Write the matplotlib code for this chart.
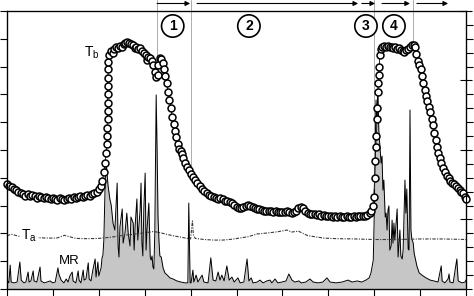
import numpy as np
import matplotlib
matplotlib.use('Agg')
import matplotlib.pyplot as plt

plt.rcParams['font.family'] = ['Liberation Sans', 'DejaVu Sans']

# time in axis divisions (10 across the frame), values in left-axis divisions
tb_t = [0.00, 0.05, 0.10, 0.15, 0.20, 0.25, 0.30, 0.35, 0.40, 0.45,
        0.50, 0.55, 0.60, 0.65, 0.70, 0.75, 0.80, 0.85, 0.90, 0.95,
        1.00, 1.05, 1.10, 1.15, 1.20, 1.25, 1.30, 1.35, 1.40, 1.45,
        1.50, 1.55, 1.60, 1.65, 1.70, 1.75, 1.80, 1.85, 1.90, 1.95,
        2.00, 2.04, 2.08, 2.11, 2.14, 2.16, 2.17, 2.18, 2.18, 2.19,
        2.19, 2.19, 2.20, 2.20, 2.20, 2.21, 2.21, 2.22,
        2.26, 2.30, 2.34, 2.38, 2.42, 2.46, 2.50, 2.54, 2.58, 2.62,
        2.66, 2.70, 2.74, 2.78, 2.82, 2.86, 2.90, 2.94, 2.98, 3.02,
        3.05, 3.08, 3.12, 3.16, 3.19, 3.22, 3.25, 3.28, 3.30, 3.33,
        3.36, 3.39, 3.42, 3.45, 3.48, 3.51, 3.54, 3.57, 3.60, 3.63,
        3.66, 3.69, 3.72, 3.75, 3.78, 3.81, 3.84, 3.88, 3.92, 3.96,
        4.00, 4.05, 4.10, 4.15, 4.20, 4.25, 4.30, 4.35, 4.40, 4.45,
        4.50, 4.55, 4.60, 4.65, 4.70, 4.75, 4.80, 4.85, 4.90, 4.95,
        5.00, 5.05, 5.10, 5.15, 5.20, 5.25, 5.30, 5.35, 5.40, 5.45,
        5.50, 5.55, 5.60, 5.65, 5.70, 5.75, 5.80, 5.85, 5.90, 5.95,
        6.00, 6.05, 6.10, 6.15, 6.20, 6.25, 6.30, 6.35, 6.40, 6.45,
        6.50, 6.55, 6.60, 6.65, 6.70, 6.75, 6.80, 6.85, 6.90, 6.95,
        7.00, 7.05, 7.10, 7.15, 7.20, 7.25, 7.30, 7.35, 7.40, 7.45,
        7.50, 7.55, 7.60, 7.65, 7.70, 7.75, 7.80, 7.85, 7.90, 7.94,
        7.97, 7.99, 8.01, 8.02, 8.03, 8.05, 8.06, 8.07, 8.08, 8.09,
        8.10, 8.11, 8.12, 8.14,
        8.18, 8.22, 8.26, 8.30, 8.34, 8.38, 8.42, 8.46, 8.50, 8.54,
        8.58, 8.62, 8.66, 8.70, 8.74, 8.78, 8.82, 8.86, 8.89, 8.92,
        8.95, 8.98, 9.01, 9.04, 9.07, 9.10, 9.13, 9.16, 9.19, 9.22,
        9.25, 9.28, 9.31, 9.34, 9.37, 9.40, 9.43, 9.46, 9.50, 9.54,
        9.58, 9.62, 9.66, 9.70, 9.74, 9.78, 9.82, 9.86, 9.90, 9.94,
        9.98, 10.00]
tb = [3.78, 3.72, 3.66, 3.60, 3.55, 3.50, 3.46, 3.42, 3.36, 3.40,
      3.33, 3.38, 3.34, 3.28, 3.35, 3.31, 3.26, 3.32, 3.27, 3.24,
      3.29, 3.25, 3.20, 3.26, 3.22, 3.19, 3.24, 3.28, 3.25, 3.30,
      3.27, 3.32, 3.36, 3.31, 3.35, 3.38, 3.34, 3.40, 3.44, 3.48,
      3.58, 3.70, 3.90, 4.20, 4.55, 4.90, 5.20, 5.50, 5.80, 6.10,
      6.40, 6.70, 7.00, 7.30, 7.60, 7.90, 8.15, 8.40,
      8.55, 8.50, 8.62, 8.70, 8.66, 8.75, 8.72, 8.80, 8.85, 8.90,
      8.84, 8.80, 8.76, 8.68, 8.72, 8.62, 8.66, 8.55, 8.50, 8.40,
      8.25, 8.35, 8.30, 8.20, 8.05, 7.80, 7.62, 7.70, 8.05, 8.30,
      8.28, 8.12, 7.90, 7.65, 7.40, 7.10, 6.80, 6.50, 6.20, 5.95,
      5.70, 5.45, 5.20, 5.05, 4.95, 4.85, 4.70, 4.55, 4.40, 4.28,
      4.15, 4.03, 3.92, 3.80, 3.70, 3.60, 3.52, 3.45, 3.38, 3.34,
      3.30, 3.27, 3.25, 3.28, 3.22, 3.18, 3.15, 3.12, 3.08, 3.02,
      2.96, 2.93, 2.90, 2.94, 3.00, 3.02, 2.98, 2.95, 2.92, 2.88,
      2.86, 2.84, 2.82, 2.80, 2.80, 2.79, 2.78, 2.80, 2.78, 2.77,
      2.76, 2.78, 2.80, 2.78, 2.75, 2.76, 2.80, 2.90, 2.95, 2.92,
      2.82, 2.75, 2.70, 2.68, 2.70, 2.66, 2.68, 2.64, 2.66, 2.63,
      2.64, 2.62, 2.60, 2.63, 2.60, 2.62, 2.58, 2.60, 2.62, 2.60,
      2.58, 2.62, 2.60, 2.62, 2.63, 2.62, 2.64, 2.66, 2.72, 2.82,
      3.00, 3.30, 4.00, 4.60, 5.10, 5.50, 6.10, 6.50, 7.10, 7.40,
      7.70, 8.00, 8.40, 8.65,
      8.72, 8.75, 8.70, 8.74, 8.70, 8.72, 8.68, 8.70, 8.64, 8.66,
      8.60, 8.55, 8.52, 8.58, 8.62, 8.72, 8.76, 8.78, 8.70, 8.45,
      8.20, 8.05, 7.90, 7.65, 7.40, 7.15, 6.95, 6.75, 6.55, 6.35,
      6.10, 5.90, 5.60, 5.35, 5.10, 4.90, 4.70, 4.52, 4.35, 4.20,
      4.08, 3.98, 3.90, 3.83, 3.77, 3.70, 3.62, 3.56, 3.50, 3.45,
      3.32, 3.25]

ta_t = [0.0, 0.1, 0.25, 0.5, 0.75, 1.0, 1.1, 1.25, 1.5, 1.75, 2.0, 2.25,
        2.5, 2.75, 3.0, 3.2, 3.4, 3.6, 3.8, 4.0, 4.04, 4.06, 4.1, 4.3,
        4.5, 4.7, 4.9, 5.1, 5.25, 5.45, 5.7, 5.9, 6.1, 6.2, 6.35, 6.55,
        6.9, 7.2, 7.6, 8.0, 8.5, 9.0, 9.5, 10.0]
ta = [1.92, 1.97, 1.90, 1.86, 1.84, 1.83, 1.84, 1.93, 1.82, 1.81, 1.82, 1.86,
      1.92, 1.97, 2.02, 2.07, 2.00, 1.92, 1.86, 1.80, 2.45, 1.95, 1.82, 1.78,
      1.76, 1.76, 1.79, 1.84, 1.88, 1.98, 2.02, 2.06, 2.12, 2.05, 2.08, 1.92,
      1.83, 1.81, 1.80, 1.78, 1.78, 1.80, 1.80, 1.78]

mr_t = [0.00, 0.04, 0.07, 0.09, 0.15, 0.22, 0.28, 0.31, 0.37, 0.41,
        0.46, 0.48, 0.52, 0.57, 0.59, 0.65, 0.72, 0.74, 0.81, 0.87,
        0.94, 1.00, 1.05, 1.11, 1.13, 1.18, 1.24, 1.29, 1.33, 1.37,
        1.42, 1.44, 1.50, 1.55, 1.57, 1.61, 1.66, 1.68, 1.72, 1.77,
        1.79, 1.83, 1.87, 1.92, 1.94, 1.98, 2.00, 2.05, 2.07, 2.09,
        2.11, 2.14, 2.16,
        2.18, 2.20, 2.24, 2.27, 2.31, 2.35, 2.40, 2.42, 2.44, 2.46,
        2.51, 2.53, 2.57, 2.61, 2.64, 2.68, 2.70, 2.75, 2.77, 2.79,
        2.83, 2.85, 2.90, 2.92, 2.94, 2.96, 2.98, 3.01, 3.03, 3.05,
        3.09, 3.12, 3.14, 3.16, 3.18, 3.20, 3.22, 3.25, 3.27, 3.29,
        3.31, 3.33, 3.36, 3.40, 3.44, 3.51, 3.55, 3.62, 3.70, 3.79,
        3.88, 3.94, 3.96, 3.99,
        4.01, 4.05, 4.07, 4.12, 4.16, 4.25, 4.29, 4.38, 4.44, 4.49,
        4.55, 4.60, 4.64, 4.68, 4.73, 4.79, 4.84, 4.90, 4.95, 5.03,
        5.08, 5.16, 5.23, 5.27, 5.32, 5.36, 5.45, 5.51, 5.58, 5.66,
        5.73, 5.77, 5.84, 5.90, 5.99, 6.08, 6.14, 6.21, 6.27, 6.36,
        6.41, 6.51, 6.60, 6.67, 6.78, 6.88, 6.97, 7.04, 7.17, 7.30,
        7.43, 7.52, 7.63, 7.73, 7.82, 7.89, 7.93, 7.98,
        8.00, 8.02, 8.04, 8.06, 8.08, 8.10, 8.13, 8.15, 8.17, 8.19,
        8.21, 8.24, 8.26, 8.28, 8.30, 8.32, 8.34, 8.37, 8.39, 8.41,
        8.43, 8.45, 8.50, 8.52, 8.56, 8.58, 8.61, 8.63, 8.67, 8.69,
        8.71, 8.74, 8.76, 8.78, 8.80, 8.82, 8.85, 8.87, 8.93, 8.98,
        9.04, 9.13, 9.22, 9.30, 9.39, 9.46, 9.48, 9.54, 9.61, 9.63,
        9.65, 9.72, 9.80, 9.83, 9.91, 9.98, 10.00]
mr = [0.32, 0.22, 0.86, 0.25, 0.22, 0.25, 0.97, 0.32, 0.22, 0.25,
      0.61, 0.25, 0.29, 0.65, 0.29, 0.25, 0.79, 0.29, 0.22, 0.25,
      0.29, 0.22, 0.25, 0.76, 0.54, 0.32, 0.22, 0.36, 0.25, 0.47,
      0.61, 0.29, 0.22, 0.65, 0.32, 0.22, 0.68, 0.32, 0.36, 0.94,
      0.36, 0.29, 0.68, 1.08, 0.43, 0.97, 0.47, 0.76, 1.12, 1.22,
      1.76, 3.92, 4.53,
      4.17, 3.74, 3.24, 3.02, 2.37, 2.12, 3.81, 1.55, 1.15, 2.23,
      2.88, 1.65, 2.01, 2.73, 2.01, 1.55, 2.59, 2.37, 1.40, 2.23,
      3.24, 1.76, 2.84, 3.81, 1.65, 1.19, 2.84, 4.17, 1.40, 2.12,
      3.09, 1.15, 1.04, 1.19, 0.79, 0.72, 2.01, 6.98, 5.00, 2.59,
      1.76, 1.19, 1.15, 0.76, 0.58, 0.47, 0.40, 0.36, 0.29, 0.25,
      0.22, 0.22, 3.09, 0.22,
      0.22, 0.68, 0.25, 0.50, 0.25, 0.50, 0.25, 0.22, 1.12, 0.32,
      0.29, 0.61, 0.32, 0.50, 0.29, 0.83, 0.32, 0.43, 0.25, 0.40,
      0.22, 0.25, 1.08, 0.29, 0.40, 0.22, 0.25, 0.32, 0.22, 0.29,
      0.32, 0.22, 0.36, 0.22, 0.25, 0.29, 0.54, 0.32, 0.25, 0.29,
      0.22, 0.25, 0.36, 0.25, 0.22, 0.25, 0.40, 0.25, 0.22, 0.25,
      0.32, 0.25, 0.29, 0.25, 0.32, 0.40, 0.58, 1.04,
      2.59, 5.00, 6.80, 6.08, 7.16, 5.72, 5.00, 4.53, 4.78, 3.56,
      3.92, 2.59, 2.73, 2.12, 2.84, 2.99, 1.40, 1.55, 2.48, 1.65,
      2.37, 1.76, 2.88, 1.15, 2.12, 1.19, 1.08, 1.40, 3.92, 2.73,
      3.60, 1.44, 1.40, 6.44, 2.12, 1.80, 1.65, 1.29, 0.83, 0.58,
      0.50, 0.40, 0.32, 0.29, 0.25, 0.83, 0.29, 0.22, 0.36, 0.54,
      0.25, 0.22, 1.08, 0.29, 0.22, 0.25, 0.32]

# stage boundaries, arrows along the top and circled stage numbers
events = [3.27, 4.01, 8.00, 8.85]
arrow_start = [3.27, 4.14, 7.73, 8.17, 8.93]
arrow_end = [3.99, 7.65, 8.02, 8.78, 9.61]
stage_labels = ['1', '2', '3', '4']
stage_x = [3.61, 5.27, 7.82, 8.43]

fig = plt.figure(figsize=(4.74, 2.96), dpi=100)
ax = fig.add_axes([7 / 474, 7 / 296, 459 / 474, 278 / 296])
ax.set_xlim(0, 10)
ax.set_ylim(0, 10)

# metabolic rate: grey filled trace
ax.fill_between(mr_t, 0, mr, color='#c6c6c6', lw=0, zorder=1)
ax.plot(mr_t, mr, color='black', lw=0.7, zorder=2)

# ambient temperature
ax.plot(ta_t, ta, color='#3a3a3a', lw=0.8, ls=(0, (3, 1.2, 1, 1.2)), zorder=2)

# thin grey lines marking the stages, from the top down to Tb
for e in events:
    ax.plot([e, e], [np.interp(e, tb_t, tb), 10.4], color='#a0a0a0',
            lw=0.6, clip_on=False, zorder=2)

# body temperature
ax.plot(tb_t, tb, '-o', color='black', lw=0.6, ms=5.0, mfc='white',
        mec='black', mew=1.1, clip_on=False, zorder=3)

for s, e in zip(arrow_start, arrow_end):
    ax.annotate('', xy=(e, 10.27), xytext=(s, 10.27), annotation_clip=False,
                arrowprops=dict(arrowstyle='-|>', color='black', lw=0.8,
                                mutation_scale=7, shrinkA=0, shrinkB=0))

for x, lab in zip(stage_x, stage_labels):
    ax.text(x, 9.46, lab, ha='center', va='center', fontsize=10,
            fontweight='bold',
            bbox=dict(boxstyle='circle,pad=0.3', fc='white', ec='black', lw=1.2))

ax.text(1.84, 8.49, r'$\mathregular{T_b}$', fontsize=10, ha='center', va='center')
ax.text(0.48, 1.91, r'$\mathregular{T_a}$', fontsize=10, ha='center', va='center',
        bbox=dict(boxstyle='square,pad=0.05', fc='white', ec='none'))
ax.text(1.35, 1.01, 'MR', fontsize=9.5, ha='center', va='center')

# ticks without labels on left, bottom and right
ax.set_xticks(range(11))
ax.set_yticks(range(11))
ax.tick_params(direction='out', length=5, width=0.8, labelbottom=False,
               labelleft=False, right=False)
for sp in ax.spines.values():
    sp.set_linewidth(0.9)

ax2 = ax.twinx()
ax2.set_ylim(0, 40)
ax2.set_yticks([0, 10, 20, 30, 40])
ax2.set_yticks(np.arange(0, 41, 2), minor=True)
ax2.tick_params(which='major', direction='inout', length=8, width=0.8,
                labelright=False)
ax2.tick_params(which='minor', direction='out', length=5, width=0.8)

fig.savefig('out.png', dpi=100)
